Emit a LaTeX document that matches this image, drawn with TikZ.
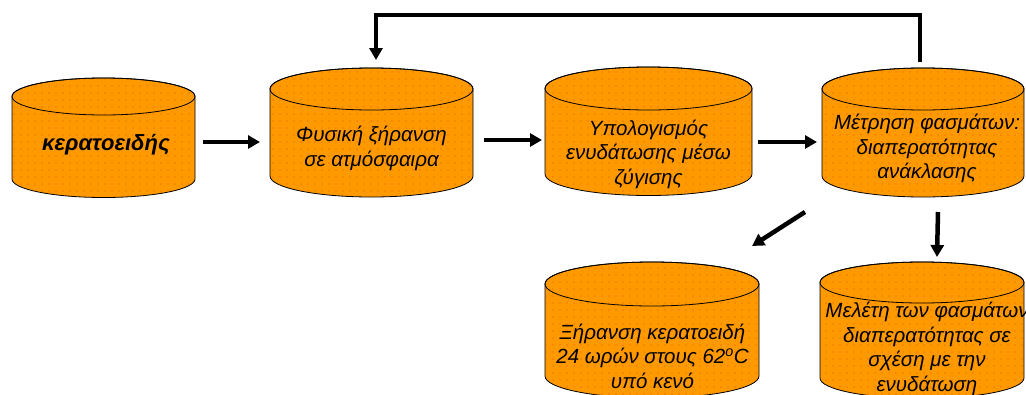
\documentclass[tikz,border=0pt]{standalone}
\usepackage{fontspec}
\setmainfont{Liberation Sans}
\usetikzlibrary{arrows.meta,patterns.meta}
\definecolor{cylfill}{HTML}{FF9900}
\definecolor{cyldot}{HTML}{E85A00}
\tikzdeclarepattern{
  name=sparsedots,
  type=uncolored,
  bounding box={(-1pt,-1pt) and (1pt,1pt)},
  tile size={(7pt,7pt)},
  code={\fill (0pt,0pt) circle[radius=0.7pt];}
}
\newcommand\cylshape[6]{% name, L, R, T, B, ry
  \pgfmathsetmacro\cylcx{(#2+#3)/2}
  \pgfmathsetmacro\cylrx{(#3-#2)/2}
  \path[cylbody] (#2,-#4) -- (#2,-#5)
     arc[start angle=180,end angle=360,x radius=\cylrx,y radius=#6]
     -- (#3,-#4)
     arc[start angle=0,end angle=180,x radius=\cylrx,y radius=#6] -- cycle;
  \draw[cylline] (\cylcx,-#4) ellipse[x radius=\cylrx,y radius=#6];
  \node[anchorbox,minimum width={#3-#2},minimum height={#5-#4+2*#6}] (#1)
     at (\cylcx,{-(#4+#5)/2}) {};
}
\begin{document}
\begin{tikzpicture}[x=1pt,y=1pt,
  cylbody/.style={fill=cylfill,draw=black,line width=0.8pt,
     postaction={pattern=sparsedots,pattern color=cyldot}},
  cylline/.style={draw=black,line width=0.8pt},
  anchorbox/.style={inner sep=0pt,outer sep=0pt},
  txt/.style={align=center,font=\fontsize{20.5}{24.5}\selectfont\itshape,inner sep=0pt},
  arr/.style={line width=4.5pt,-{Triangle[length=12pt,width=13pt]}},
  fb/.style={line width=4pt,-{Triangle[length=12pt,width=13pt]}}]
\useasboundingbox (0,0) rectangle (1026,-394);
\clip (0,0) rectangle (1026,-394);
\fill[white] (0,0) rectangle (1026,-394);

\cylshape{c1}{12}{195}{96.5}{179}{18.5}
\cylshape{c2}{270}{473}{89}{176}{21}
\cylshape{c3}{545}{752}{88.5}{174}{21.5}
\cylshape{c4}{822}{1024}{89}{176}{21}
\cylshape{c5}{545}{759}{284}{376}{22}
\cylshape{c6}{820}{1024}{282.5}{378}{20.5}

\node[txt,font=\fontsize{22}{24}\selectfont\bfseries\itshape] (t1) at (106,-145) {κερατοειδής};
\node[txt] (t2) at (371.5,-148.5) {Φυσική ξήρανση\\σε ατμόσφαιρα};
\node[txt] (t3) at (648.5,-154) {Υπολογισμός\\ενυδάτωσης μέσω\\ζύγισης};
\node[txt] (t4) at (927,-148.5) {Μέτρηση φασμάτων:\\διαπερατότητας\\ανάκλασης};
\node[txt] (t5) at (652.5,-356) {Ξήρανση κερατοειδή\\24 ωρών στους 62\textsuperscript{o}C\\υπό κενό};
\node[txt] (t6) at (927,-349) {Μελέτη των φασμάτων\\διαπερατότητας σε\\σχέση με την\\ενυδάτωση};

% horizontal arrows
\coordinate (h1) at (0,-142);
\coordinate (h2) at (0,-140);
\coordinate (h3) at (0,-142);
\draw[arr] ([xshift=8pt]c1.east |- h1) -- ([xshift=-10pt]c2.west |- h1);
\draw[arr] ([xshift=11pt]c2.east |- h2) -- ([xshift=-3pt]c3.west |- h2);
\draw[arr] ([xshift=6pt]c3.east |- h3) -- ([xshift=-5pt]c4.west |- h3);

% feedback arrow
\coordinate (fbtop) at (0,-15);
\draw[fb] ([shift={(-3pt,6pt)}]c4.north) |- ([xshift=4.5pt]c2.north |- fbtop) -- ([shift={(4.5pt,8pt)}]c2.north);

% arrows down
\coordinate (dA) at (805,-212);
\coordinate (dB) at (752,-246);
\draw[arr] (dA) -- (dB);
\draw[arr] ([xshift=15pt,yshift=-15pt]c4.south) -- ([xshift=15pt,yshift=5pt]c6.north);
\end{tikzpicture}
\end{document}
